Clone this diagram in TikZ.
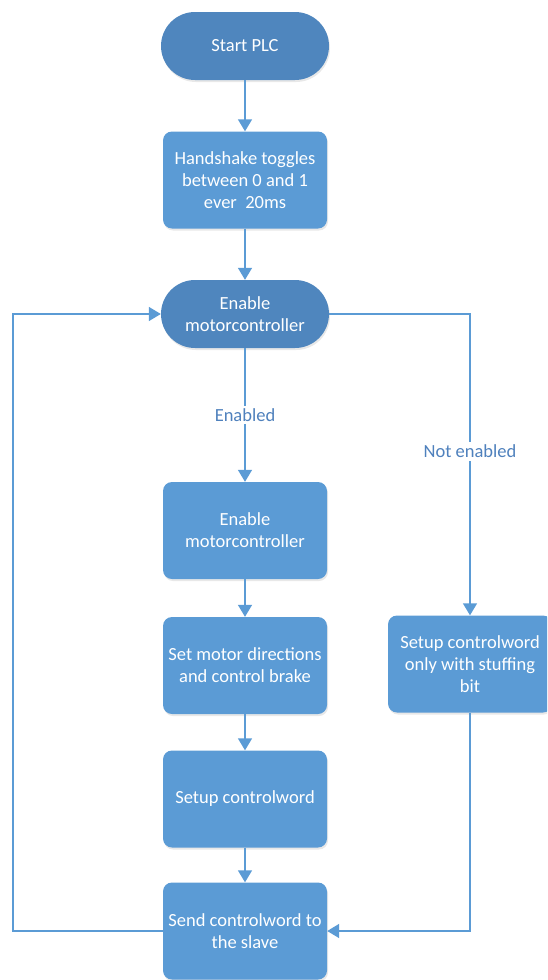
\documentclass[tikz,border=0pt]{standalone}
\usepackage{fontspec}
\setmainfont{Carlito}
\usetikzlibrary{arrows.meta,shadows}
\definecolor{termfill}{HTML}{4F86BE}
\definecolor{procfill}{HTML}{5B9BD5}
\definecolor{flowline}{HTML}{5B9BD5}
\definecolor{labeltext}{HTML}{4F81BD}
\begin{document}
\begin{tikzpicture}[x=1pt,y=-1pt,
  base/.style={inner sep=2pt, align=center, text=white,
    font=\fontsize{18.5}{22}\selectfont,
    drop shadow={opacity=0.18, shadow xshift=1pt, shadow yshift=-2pt}},
  terminal/.style={base, fill=termfill, minimum width=168pt,
    minimum height=68pt, rounded corners=34pt},
  process/.style={base, fill=procfill, minimum width=164pt,
    minimum height=97pt, rounded corners=9pt},
  flow/.style={draw=flowline, line width=1.6pt,
    -{Triangle[width=14pt,length=12pt]}},
  cond/.style={fill=white, text=labeltext,
    font=\fontsize{18.5}{22}\selectfont, inner sep=3pt}
]
\useasboundingbox (0,0) rectangle (547,980);
\clip (0,0) rectangle (547,980);

% main column
\node[terminal] (start)  at (245,46)    {Start PLC};
\node[process]  (hand)   at (245,180)   {Handshake toggles\\between 0 and 1\\ever\ \ 20ms};
\node[terminal] (enable) at (245,314)   {Enable\\motorcontroller};
\node[process]  (enbox)  at (245,530.5) {Enable\\motorcontroller};
\node[process]  (dir)    at (245,665.5) {Set motor directions\\and control brake};
\node[process]  (setup)  at (245,799)   {Setup controlword};
\node[process]  (send)   at (245,931)   {Send controlword to\\the slave};

% side branch
\node[process]  (stuff)  at (470,664)   {Setup controlword\\only with stuffing\\bit};

\coordinate (loopL) at (13,931);

% connectors
\draw[flow] (start) -- (hand);
\draw[flow] (hand) -- (enable);
\draw[flow] (enable) -- node[cond] {Enabled} (enbox);
\draw[flow] (enbox) -- (dir);
\draw[flow] (dir) -- (setup);
\draw[flow] (setup) -- (send);
\draw[flow] (enable.east) -| node[cond, pos=0.728] {Not enabled} (stuff.north);
\draw[flow] (stuff.south) |- (send.east);
\draw[flow] (send.west) -- (loopL) |- (enable.west);
\end{tikzpicture}
\end{document}
